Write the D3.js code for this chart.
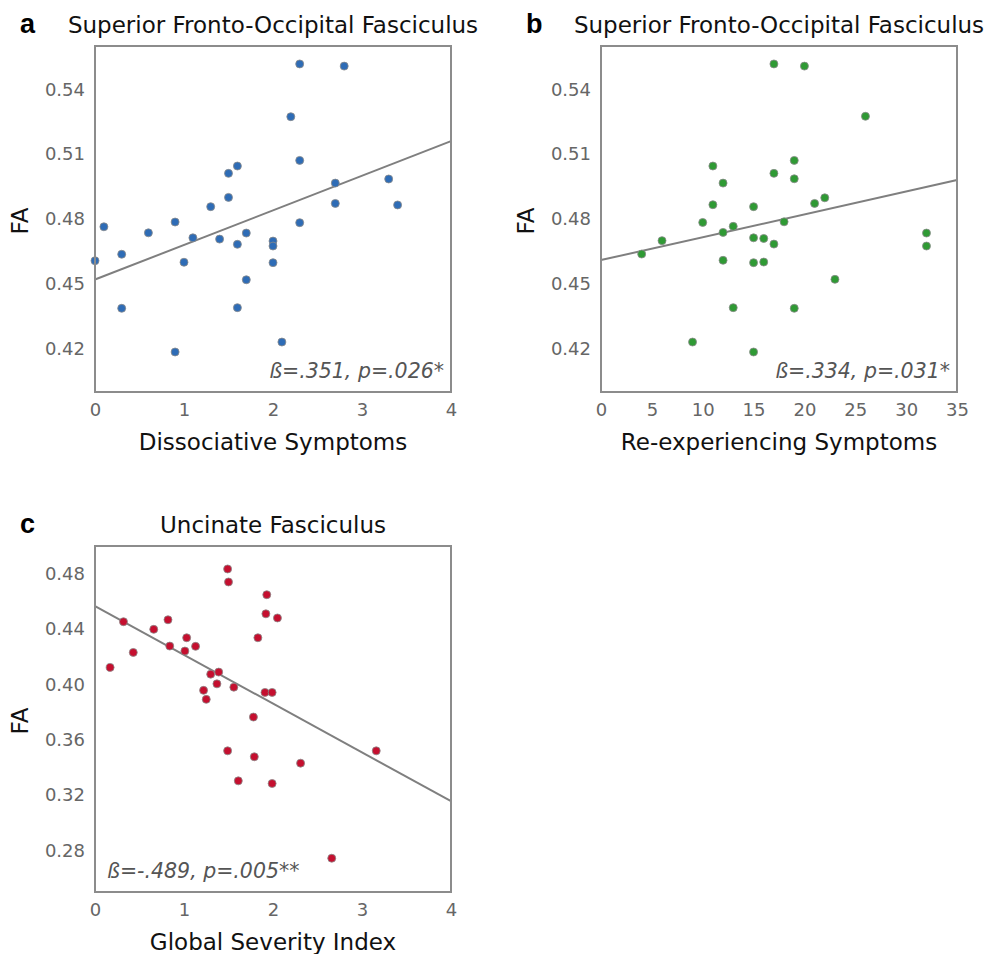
<!DOCTYPE html>
<html>
<head>
<meta charset="utf-8">
<script src="https://cdn.jsdelivr.net/npm/d3@7"></script>
<style>
    body { margin: 0; background: #fff; }
    svg text { font-family: "DejaVu Sans", sans-serif; }
    .tick text { fill: #666; font-size: 18px; }
    .panel-letter { font-family: "Liberation Sans", Arial, sans-serif !important; font-weight: bold; font-size: 27px; }
</style>
</head>
<body>
<div id="chart"></div>
<script>
// panel a: dissociative symptoms vs FA
const dissociativeX = [2.3, 2.8, 2.2, 2.3, 1.6, 1.5, 2.7, 3.3, 1.5, 1.3, 2.7, 3.4, 0.1, 0.9, 0.6, 2.3,
    1.1, 1.4, 1.7, 1.6, 2.0, 2.0, 0.0, 0.3, 1.0, 2.0, 1.7, 0.3, 1.6, 2.1, 0.9];
const dissociativeFA = [0.5517, 0.5507, 0.5273, 0.5071, 0.5045, 0.5011, 0.4966, 0.4985, 0.4900, 0.4857,
    0.4872, 0.4865, 0.4764, 0.4786, 0.4736, 0.4783, 0.4713, 0.4707, 0.4735, 0.4683, 0.4698, 0.4675,
    0.4607, 0.4637, 0.4600, 0.4598, 0.4519, 0.4387, 0.4390, 0.4231, 0.4185];
const dissociativeFit = [0.452, 0.516];

// panel b: re-experiencing symptoms vs FA
const reexpX = [17, 20, 26, 11, 19, 12, 17, 19, 22, 21, 11, 15, 10, 13, 12, 18,
    6, 4, 15, 16, 17, 32, 32, 12, 15, 16, 23, 13, 19, 9, 15];
const reexpFA = [0.5517, 0.5507, 0.5275, 0.5045, 0.5071, 0.4966, 0.5011, 0.4986, 0.4898, 0.4872,
    0.4866, 0.4857, 0.4784, 0.4766, 0.4738, 0.4787, 0.4700, 0.4638, 0.4713, 0.4710, 0.4684, 0.4735,
    0.4675, 0.4609, 0.4598, 0.4601, 0.4521, 0.4390, 0.4387, 0.4231, 0.4185];
const reexpFit = [0.461, 0.498];

// panel c: global severity index vs FA (uncinate)
const gsiX = [1.49, 1.50, 1.93, 1.92, 2.05, 0.32, 0.82, 0.66, 1.03, 1.83, 0.84, 1.13, 1.01, 0.43,
    0.17, 1.30, 1.39, 1.37, 1.56, 1.22, 1.25, 1.91, 1.99, 1.78, 1.49, 3.16, 1.79, 2.31, 1.61, 1.99, 2.66];
const gsiFA = [0.4834, 0.4740, 0.4648, 0.4510, 0.4480, 0.4453, 0.4467, 0.4398, 0.4337, 0.4337, 0.4277,
    0.4275, 0.4241, 0.4231, 0.4123, 0.4074, 0.4089, 0.4004, 0.3980, 0.3957, 0.3892, 0.3942, 0.3942,
    0.3764, 0.3520, 0.3520, 0.3477, 0.3431, 0.3303, 0.3284, 0.2744];
const gsiFit = [0.4566, 0.3156];

const sfofTicks = [0.42, 0.45, 0.48, 0.51, 0.54];
const uncTicks = [0.28, 0.32, 0.36, 0.40, 0.44, 0.48];

const panels = [
    {
        letter: "a", title: "Superior Fronto-Occipital Fasciculus", xLabel: "Dissociative Symptoms",
        xs: dissociativeX, ys: dissociativeFA, fit: dissociativeFit,
        xDomain: [0, 4], xTicks: [0, 1, 2, 3, 4], yDomain: [0.40, 0.56], yTicks: sfofTicks,
        color: "#2e6cb6", stat: "ß=.351, p=.026*", statRight: true,
        left: 95, top: 46
    },
    {
        letter: "b", title: "Superior Fronto-Occipital Fasciculus", xLabel: "Re-experiencing Symptoms",
        xs: reexpX, ys: reexpFA, fit: reexpFit,
        xDomain: [0, 35], xTicks: [0, 5, 10, 15, 20, 25, 30, 35], yDomain: [0.40, 0.56], yTicks: sfofTicks,
        color: "#2f9a34", stat: "ß=.334, p=.031*", statRight: true,
        left: 601, top: 46
    },
    {
        letter: "c", title: "Uncinate Fasciculus", xLabel: "Global Severity Index",
        xs: gsiX, ys: gsiFA, fit: gsiFit,
        xDomain: [0, 4], xTicks: [0, 1, 2, 3, 4], yDomain: [0.25, 0.50], yTicks: uncTicks,
        color: "#c50f2f", stat: "ß=-.489, p=.005**", statRight: false,
        left: 95, top: 546
    }
];

const size = { width: 356, height: 346 };

const svg = d3.select("#chart").append("svg")
    .attr("width", 991)
    .attr("height", 954);

panels.forEach(drawPanel);

function drawPanel(p) {
    const g = svg.append("g")
        .attr("transform", `translate(${p.left}, ${p.top})`);

    const x = d3.scaleLinear().domain(p.xDomain).range([0, size.width]);
    const y = d3.scaleLinear().domain(p.yDomain).range([size.height, 0]);

    // axes (ticks only, no lines)
    const xAxis = g.append("g")
        .attr("transform", `translate(0, ${size.height})`)
        .call(d3.axisBottom(x).tickValues(p.xTicks).tickSize(0).tickPadding(11).tickFormat(d3.format("d")));
    const yAxis = g.append("g")
        .call(d3.axisLeft(y).tickValues(p.yTicks).tickSize(0).tickPadding(10).tickFormat(d3.format(".2f")));
    [xAxis, yAxis].forEach(a => a.select(".domain").remove());
    xAxis.selectAll("text").attr("dy", "0.72em");

    // regression line
    g.append("line")
        .attr("x1", x(p.xDomain[0])).attr("y1", y(p.fit[0]))
        .attr("x2", x(p.xDomain[1])).attr("y2", y(p.fit[1]))
        .attr("stroke", "#7f7f7f")
        .attr("stroke-width", 2);

    // points
    g.selectAll("circle")
        .data(p.xs.map((v, i) => [v, p.ys[i]]))
        .join("circle")
        .attr("cx", d => x(d[0]))
        .attr("cy", d => y(d[1]))
        .attr("r", 4)
        .attr("fill", p.color)
        .attr("stroke", "#8a8a8a")
        .attr("stroke-width", 0.8);

    // frame
    g.append("rect")
        .attr("width", size.width)
        .attr("height", size.height)
        .attr("fill", "none")
        .attr("stroke", "#8c8c8c")
        .attr("stroke-width", 2);

    g.append("text")
        .attr("x", p.statRight ? size.width - 7 : 12)
        .attr("y", size.height - 14)
        .attr("text-anchor", p.statRight ? "end" : "start")
        .attr("font-style", "italic")
        .attr("font-size", 20.5)
        .attr("fill", "#555")
        .text(p.stat);

    g.append("text")
        .attr("x", size.width / 2)
        .attr("y", -13)
        .attr("text-anchor", "middle")
        .attr("font-size", 23)
        .attr("fill", "#111")
        .text(p.title);

    g.append("text")
        .attr("class", "panel-letter")
        .attr("x", -75)
        .attr("y", -13)
        .text(p.letter);

    g.append("text")
        .attr("x", size.width / 2)
        .attr("y", size.height + 58)
        .attr("text-anchor", "middle")
        .attr("font-size", 23)
        .attr("fill", "#111")
        .text(p.xLabel);

    g.append("text")
        .attr("transform", `translate(-67, ${size.height / 2 + 2}) rotate(-90)`)
        .attr("text-anchor", "middle")
        .attr("font-size", 23)
        .attr("fill", "#111")
        .text("FA");
}
</script>
</body>
</html>
